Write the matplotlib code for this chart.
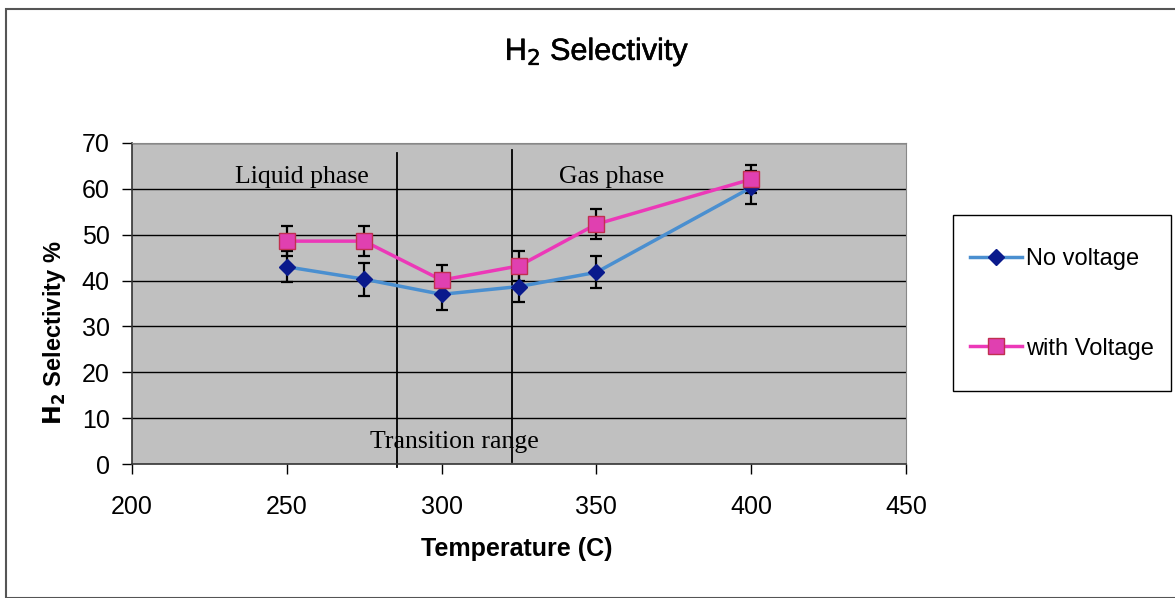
import matplotlib
matplotlib.use("Agg")
import matplotlib.pyplot as plt
from matplotlib.patches import Rectangle
import matplotlib.patheffects as pe

temps = [250, 275, 300, 325, 350, 400]
no_voltage = [43.0, 40.3, 37.0, 38.7, 41.8, 60.3]
no_voltage_err = [3.4, 3.6, 3.4, 3.4, 3.5, 3.5]
with_voltage = [48.6, 48.6, 40.1, 43.2, 52.3, 62.1]
with_voltage_err = [3.2, 3.2, 3.3, 3.2, 3.2, 3.1]
phase_bounds = [285.6, 322.7]
xticks = [200, 250, 300, 350, 400, 450]
yticks = [0, 10, 20, 30, 40, 50, 60, 70]

plt.rcParams['font.family'] = ['Liberation Sans', 'DejaVu Sans']

fig = plt.figure(figsize=(11.75, 5.98), dpi=100)
fig.patches.append(Rectangle((6/1175, 0), 1.2, (598-9)/598, transform=fig.transFigure,
                             fill=False, edgecolor='#555555', linewidth=1.5))
ax = fig.add_axes([132/1175, 1-464/598, (906-132)/1175, (464-143)/598])
ax.set_facecolor('#C0C0C0')
ax.set_xlim(200, 450)
ax.set_ylim(0, 70)
ax.set_xticks(xticks)
ax.set_yticks(yticks)
ax.tick_params(labelsize=18, length=7, width=1, color='black')
ax.tick_params(axis='y', pad=9)
ax.tick_params(axis='x', pad=15)
for y in yticks[1:]:
    ax.axhline(y, color='black', linewidth=1.0, zorder=1)
for s in ['top', 'right']:
    ax.spines[s].set_color('#888888')
for s in ['left', 'bottom']:
    ax.spines[s].set_color('#333333')
    ax.spines[s].set_linewidth(1.2)

ax.plot([phase_bounds[0]] * 2, [-0.7, 67.8], color='black', linewidth=1.3, zorder=2, clip_on=False)
ax.plot([phase_bounds[1]] * 2, [0.5, 68.4], color='black', linewidth=1.3, zorder=2, clip_on=False)

ax.errorbar(temps, no_voltage, yerr=no_voltage_err, fmt='none', ecolor='black',
            elinewidth=1.6, capsize=4.5, capthick=1.6, zorder=3)
ax.errorbar(temps, with_voltage, yerr=with_voltage_err, fmt='none', ecolor='black',
            elinewidth=1.6, capsize=4.5, capthick=1.6, zorder=3)
ax.plot(temps, no_voltage, color='#4A8FD0', linewidth=2.5, marker='D', markersize=8,
        markerfacecolor='#0A1A8C', markeredgecolor='#0A1A8C', label='No voltage', zorder=4)
ax.plot(temps, with_voltage, color='#EC38B8', linewidth=2.5, marker='s', markersize=11,
        markerfacecolor='#E040B0', markeredgecolor='#C03050', label='with Voltage', zorder=5)

serif = ['Liberation Serif', 'DejaVu Serif']
ax.text(255, 62.5, 'Liquid phase', family=serif, fontsize=18.5, ha='center', va='center')
ax.text(355, 62.5, 'Gas phase', family=serif, fontsize=18.5, ha='center', va='center')
ax.text(304, 4.8, 'Transition range', family=serif, fontsize=18.5, ha='center', va='center')

fig.text(597/1175, 1-52/598, r'H$_2$ Selectivity', fontsize=22, ha='center', va='center',
         path_effects=[pe.withStroke(linewidth=0.4, foreground='black')])
fig.text(55/1175, 1-333/598, r'$\mathbf{H_2}$ Selectivity %', fontsize=17, fontweight='bold',
         rotation=90, ha='center', va='center')
fig.text(517/1175, 1-549/598, 'Temperature (C)', fontsize=18, fontweight='bold', ha='center', va='center')

fig.patches.append(Rectangle((953/1175, 1-391/598), (1171-953)/1175, (391-215)/598,
                             transform=fig.transFigure, facecolor='white', edgecolor='black',
                             linewidth=1.0, zorder=0))
leg = fig.legend(loc='center', bbox_to_anchor=(1062/1175, 1-304/598), fontsize=17,
                 frameon=False, labelspacing=2.85, handlelength=2.2, handletextpad=0.15,
                 borderpad=0.3)

fig.savefig('out.png', dpi=100)
